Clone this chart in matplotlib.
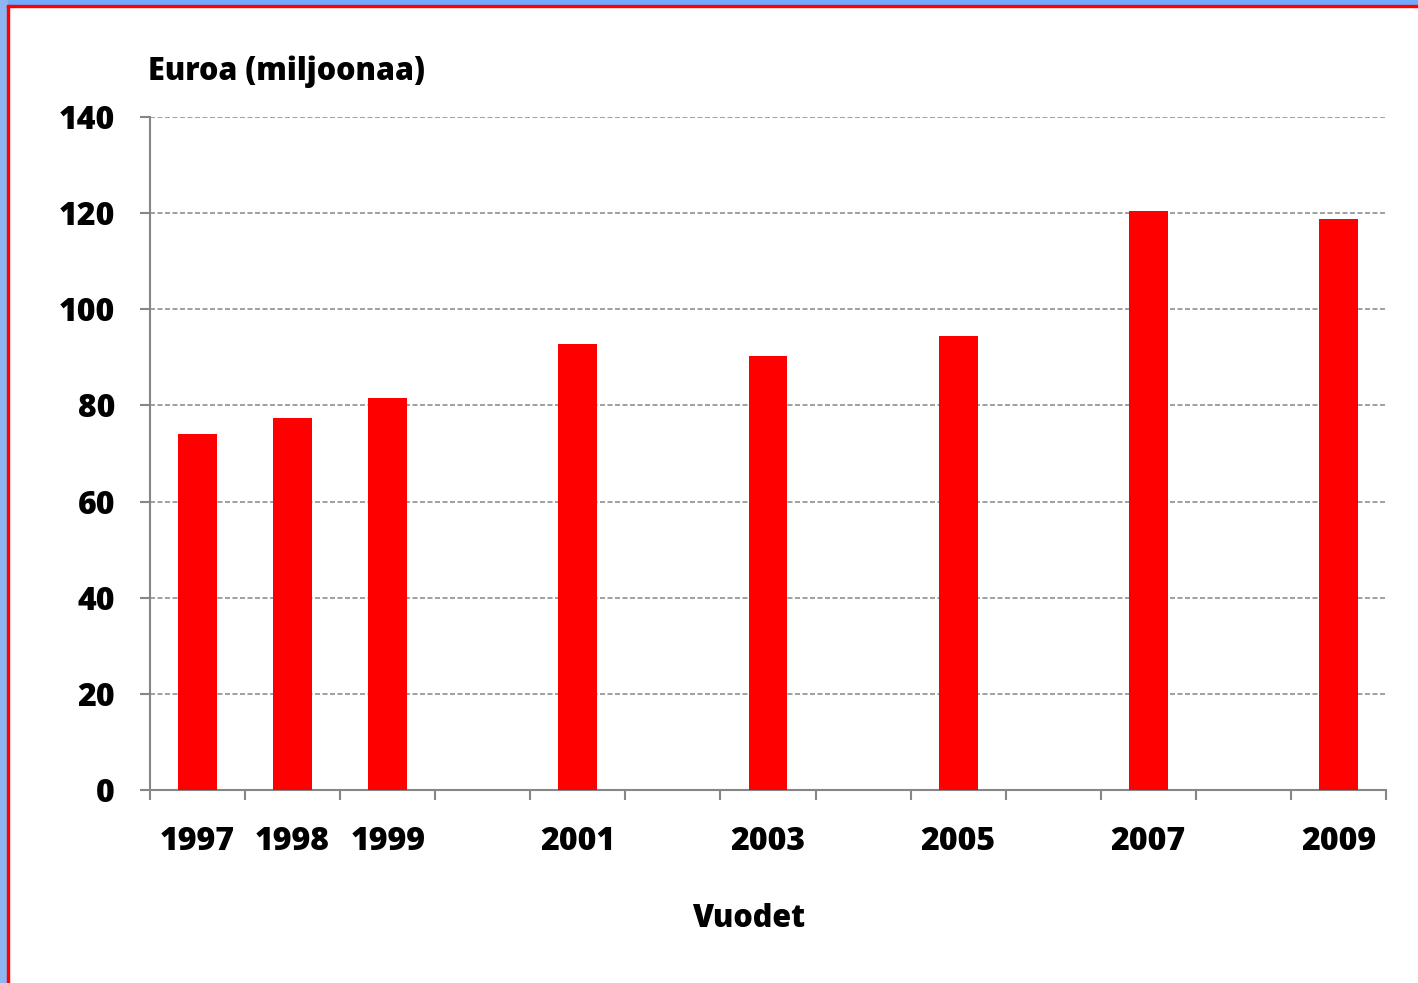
import numpy as np
import matplotlib
matplotlib.use('Agg')
import matplotlib.pyplot as plt
from matplotlib.patches import Rectangle

# data
years = [1997, 1998, 1999, 2001, 2003, 2005, 2007, 2009]
values = [74.0, 77.4, 81.5, 92.8, 90.3, 94.4, 120.4, 118.8]
y_ticks = [0, 20, 40, 60, 80, 100, 120, 140]
first_year, last_year = 1997, 2009

plt.rcParams['font.family'] = ['Open Sans', 'DejaVu Sans']
fs = 23
fw = 'heavy'

fig = plt.figure(figsize=(14.18, 9.83), dpi=100)
fig.patch.set_facecolor('white')

# frame: blue strip on top and left, thin red line inside
fig.patches.append(Rectangle((0, 1 - 5 / 983), 1, 5 / 983, transform=fig.transFigure,
                             color='#70abff', zorder=0))
fig.patches.append(Rectangle((0, 0), 7 / 1418, 1, transform=fig.transFigure,
                             color='#8fb6f2', zorder=0))
fig.patches.append(Rectangle((7 / 1418, 0), 2 / 1418, 1 - 5 / 983, transform=fig.transFigure,
                             color='#ff0000', zorder=1))
fig.patches.append(Rectangle((7 / 1418, 1 - 7 / 983), 1, 2 / 983, transform=fig.transFigure,
                             color='#ff0000', zorder=1))

ax = fig.add_axes([150 / 1418, 1 - 790 / 983, 1236 / 1418, 673 / 983])

ax.bar(years, values, width=0.41, color='#ff0000', zorder=3)

ax.set_xlim(first_year - 0.5, last_year + 0.5)
ax.set_ylim(0, 140)

axis_col = '#868686'
for side in ['top', 'right']:
    ax.spines[side].set_visible(False)
for side in ['left', 'bottom']:
    ax.spines[side].set_color(axis_col)
    ax.spines[side].set_linewidth(1.5)

ax.set_yticks(y_ticks)
ax.set_yticklabels([str(t) for t in y_ticks], fontsize=fs, fontweight=fw)
ax.tick_params(axis='y', length=7.2, width=1.5, color=axis_col, pad=18)
ax.yaxis.grid(True, linestyle=(0, (3, 1.5)), color='#909090', linewidth=1.2, zorder=0)
ax.set_axisbelow(True)

ax.set_xticks(years)
ax.set_xticklabels([str(y) for y in years], fontsize=fs, fontweight=fw)
ax.set_xticks(np.arange(first_year - 0.5, last_year + 1), minor=True)
ax.tick_params(axis='x', which='major', length=0, pad=26)
ax.tick_params(axis='x', which='minor', length=7.2, width=1.5, color=axis_col)

fig.text(749 / 1418, 1 - 919 / 983, 'Vuodet', fontsize=22, fontweight=fw,
         ha='center', va='center')
fig.text(148 / 1418, 1 - 72 / 983, 'Euroa (miljoonaa)', fontsize=22, fontweight=fw,
         ha='left', va='center')

fig.savefig('out.png', dpi=100)
